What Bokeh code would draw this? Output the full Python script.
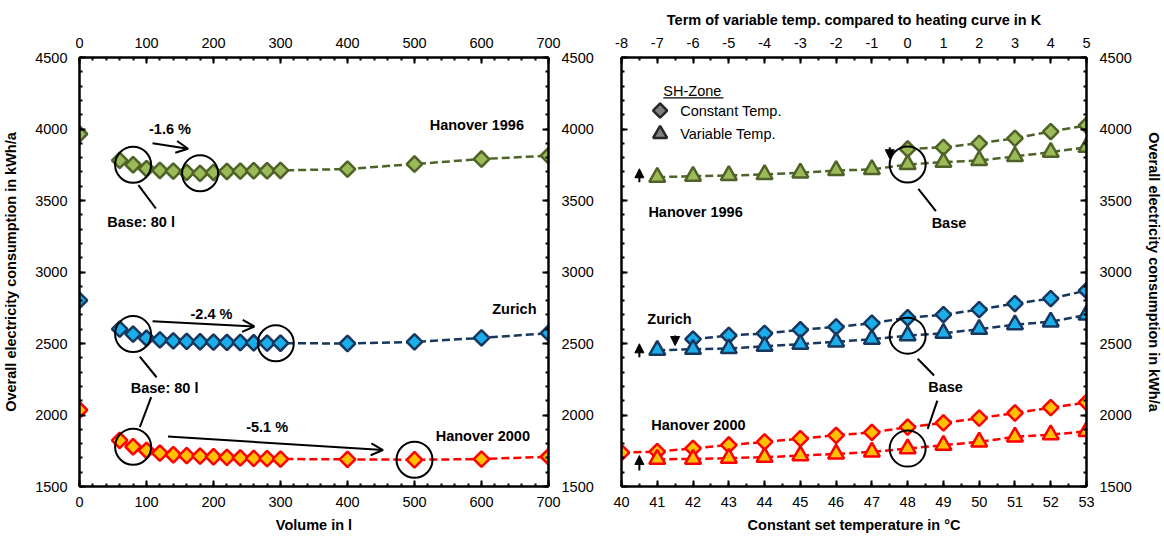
import numpy as np
from bokeh.plotting import figure
from bokeh.models import Range1d, LinearAxis, FixedTicker, Arrow, OpenHead, NormalHead
from bokeh.layouts import row
from bokeh.embed import file_html
from bokeh.resources import INLINE
from bokeh.core.properties import value

FONT = "Liberation Sans"

# ---------------- data: left panel (storage volume) ----------------
volume = [0, 60, 80, 100, 120, 140, 160, 180, 200, 220, 240, 260, 280, 300, 400, 500, 600, 700]
han96_vol = [3965, 3780, 3750, 3722, 3710, 3705, 3697, 3690, 3696, 3703, 3706, 3708, 3708, 3710, 3720, 3755, 3790, 3813]
zur_vol = [2802, 2601, 2566, 2538, 2525, 2518, 2515, 2512, 2510, 2508, 2507, 2505, 2503, 2502, 2500, 2511, 2539, 2572]
han00_vol = [2035, 1822, 1778, 1752, 1733, 1722, 1716, 1712, 1708, 1704, 1700, 1697, 1695, 1692, 1690, 1687, 1692, 1708]

# ---------------- data: right panel (set temperature) ----------------
set_temp = [40, 41, 42, 43, 44, 45, 46, 47, 48, 49, 50, 51, 52, 53]
han96_const = [None] * 8 + [3860, 3872, 3900, 3935, 3982, 4025]
zur_const = [None] * 2 + [2530, 2556, 2570, 2596, 2616, 2642, 2680, 2702, 2737, 2779, 2814, 2870]
han00_const = [1737, 1744, 1767, 1790, 1812, 1835, 1858, 1878, 1915, 1945, 1978, 2014, 2051, 2088]

var_term = [-7, -6, -5, -4, -3, -2, -1, 0, 1, 2, 3, 4, 5]
han96_var = [3663, 3670, 3675, 3682, 3694, 3710, 3717, 3752, 3768, 3780, 3808, 3838, 3873]
zur_var = [2453, 2460, 2465, 2481, 2495, 2512, 2530, 2555, 2572, 2600, 2632, 2652, 2700]
han00_var = [1691, 1692, 1698, 1705, 1716, 1728, 1742, 1765, 1789, 1812, 1847, 1862, 1886]

# tick labels
vol_ticks = [0, 100, 200, 300, 400, 500, 600, 700]
y_ticks = [1500, 2000, 2500, 3000, 3500, 4000, 4500]
temp_ticks = set_temp
var_ticks = [-8, -7, -6, -5, -4, -3, -2, -1, 0, 1, 2, 3, 4, 5]
var_labels = ["-8", "-7", "-6", "-5", "-4", "-3", "-2", "-1", "0", "1", "2", "3", "4", "5"]

GREEN = dict(fill="#9BBB59", line="#4F6228")
BLUE = dict(fill="#1AAEEA", line="#17375E")
RED = dict(fill="#FFC000", line="#FF0000")


def style_axis(ax, ticks, minor):
    ax.ticker = FixedTicker(ticks=ticks, minor_ticks=minor)
    ax.axis_line_width = 2.5
    ax.axis_line_color = "black"
    ax.major_tick_in = 6
    ax.major_tick_out = 0
    ax.minor_tick_in = 3
    ax.minor_tick_out = 0
    ax.major_tick_line_width = 2
    ax.minor_tick_line_width = 2
    ax.major_tick_line_color = "black"
    ax.minor_tick_line_color = "black"
    ax.major_label_text_font = FONT
    ax.major_label_text_font_size = "14.5px"
    ax.major_label_text_color = "black"
    ax.axis_label_text_font = FONT
    ax.axis_label_text_font_style = "bold"
    ax.axis_label_text_font_size = "14.5px"
    ax.axis_label_text_color = "black"


def base_fig(xr, w, ml, mr):
    p = figure(width=w, height=537, x_range=xr, y_range=Range1d(1500, 4500),
               output_backend="svg", toolbar_location=None,
               min_border_left=ml, min_border_right=mr, min_border_top=57, min_border_bottom=51)
    p.xgrid.visible = False
    p.ygrid.visible = False
    p.outline_line_color = None
    p.background_fill_color = "white"
    p.border_fill_color = "white"
    return p


def btext(p, xs, ys, texts, align="center", bold=True, size="14.5px", **kw):
    p.text(x=xs, y=ys, text=texts, text_font=value(FONT),
           text_font_style="bold" if bold else "normal", text_font_size=size,
           text_align=align, text_baseline="middle", text_color="black", **kw)


# =================== LEFT FIGURE ===================
p1 = base_fig(Range1d(0, 700), 600, 78, 52)
vol_minor = list(range(0, 701, 20))
y_minor = list(range(1500, 4501, 100))

style_axis(p1.xaxis[0], vol_ticks, vol_minor)
p1.xaxis[0].axis_label = "Volume in l"
p1.xaxis[0].major_label_standoff = 10
p1.xaxis[0].axis_label_standoff = 7

top1 = LinearAxis()
style_axis(top1, vol_ticks, vol_minor)
top1.major_label_standoff = 10
p1.add_layout(top1, "above")

style_axis(p1.yaxis[0], y_ticks, y_minor)
p1.yaxis[0].axis_label = "Overall electricity consumption in kWh/a"
p1.yaxis[0].major_label_standoff = 12
p1.yaxis[0].axis_label_standoff = 13

right1 = LinearAxis()
style_axis(right1, y_ticks, y_minor)
right1.major_label_standoff = 13
p1.add_layout(right1, "right")

for ys, c in ((han96_vol, GREEN), (zur_vol, BLUE), (han00_vol, RED)):
    p1.line(volume[1:], ys[1:], line_color=c["line"], line_width=2.5, line_dash="8 4")
    p1.scatter(volume, ys, marker="square", angle=np.pi / 4, size=11,
               fill_color=c["fill"], line_color=c["line"], line_width=2.5)

# annotation circles: base 80 l and best volume
circ_x = [80, 180, 80, 293, 80, 500]
circ_y = [han96_vol[volume.index(80)], han96_vol[volume.index(180)],
          zur_vol[volume.index(80)], zur_vol[volume.index(300)],
          han00_vol[volume.index(80)], han00_vol[volume.index(500)]]
p1.scatter(circ_x, circ_y, marker="circle", size=36, fill_color=None,
           line_color="black", line_width=2)

# leader lines to "Base: 80 l"
p1.segment(x0=[88, 90, 107], y0=[3608, 2409, 2125], x1=[114, 115, 90], y1=[3444, 2264, 1915],
           line_color="black", line_width=2)

# percent arrows
for (xs, ys, xe, ye) in ((109, 3901, 162, 3862), (109, 2656, 261, 2619), (132, 1850, 453, 1755)):
    p1.add_layout(Arrow(end=OpenHead(size=12, line_width=2, line_color="black"),
                        x_start=xs, y_start=ys, x_end=xe, y_end=ye,
                        line_color="black", line_width=2))

btext(p1, [135, 197, 280], [3997, 2708, 1915], ["-1.6 %", "-2.4 %", "-5.1 %"])
btext(p1, [92, 127], [3350, 2190], ["Base: 80 l", "Base: 80 l"])
btext(p1, [593, 649, 602], [4029, 2740, 1850], ["Hanover 1996", "Zurich", "Hanover 2000"])

# =================== RIGHT FIGURE ===================
p2 = base_fig(Range1d(40, 53), 564, 21, 75)
p2.extra_x_ranges = {"var": Range1d(-8, 5)}
temp_minor = list(np.arange(40, 53.01, 0.5))
var_minor = list(np.arange(-8, 5.01, 0.5))

style_axis(p2.xaxis[0], temp_ticks, temp_minor)
p2.xaxis[0].axis_label = "Constant set temperature in °C"
p2.xaxis[0].major_label_standoff = 10
p2.xaxis[0].axis_label_standoff = 7

top2 = LinearAxis(x_range_name="var")
style_axis(top2, var_ticks, var_minor)
top2.axis_label = "Term of variable temp. compared to heating curve in K"
top2.major_label_overrides = dict(zip(var_ticks, var_labels))
top2.major_label_standoff = 10
top2.axis_label_standoff = 7
p2.add_layout(top2, "above")

style_axis(p2.yaxis[0], y_ticks, y_minor)
p2.yaxis[0].major_label_overrides = {t: "" for t in y_ticks}
p2.yaxis[0].major_label_standoff = 0

right2 = LinearAxis()
style_axis(right2, y_ticks, y_minor)
right2.axis_label = "Overall electricity consumption in kWh/a"
right2.major_label_standoff = 13
right2.axis_label_standoff = 11
p2.add_layout(right2, "right")

for ys, c in ((han96_var, GREEN), (zur_var, BLUE), (han00_var, RED)):
    p2.line(var_term, ys, x_range_name="var", line_color=c["line"], line_width=2.5, line_dash="8 4")
for ys, c in ((han96_const, GREEN), (zur_const, BLUE), (han00_const, RED)):
    xs = [t for t, v in zip(set_temp, ys) if v is not None]
    vs = [v for v in ys if v is not None]
    p2.line(xs, vs, line_color=c["line"], line_width=2.5, line_dash="8 4")
    p2.scatter(xs, vs, marker="square", angle=np.pi / 4, size=11,
               fill_color=c["fill"], line_color=c["line"], line_width=2.5)
for ys, c in ((han96_var, GREEN), (zur_var, BLUE), (han00_var, RED)):
    p2.scatter(var_term, ys, x_range_name="var", marker="triangle", size=16,
               fill_color=c["fill"], line_color=c["line"], line_width=2.5)

# base circles at variable temp. term 0
i0 = var_term.index(0)
p2.scatter([0, 0, 0], [han96_var[i0], zur_var[i0], han00_var[i0]], x_range_name="var",
           marker="circle", size=36, fill_color=None, line_color="black", line_width=2)

# leader lines to "Base"
p2.segment(x0=[48.30, 48.28, 48.83], y0=[3582, 2393, 2101], x1=[48.79, 48.74, 48.56], y1=[3425, 2276, 1903],
           line_color="black", line_width=2)

# small arrows marking start points
for (xa, ys, ye) in ((40.5, 3628, 3722), (47.5, 3873, 3792), (40.5, 2404, 2498),
                     (41.5, 2556, 2486), (40.5, 1612, 1717)):
    p2.add_layout(Arrow(end=NormalHead(size=9, fill_color="black", line_color="black", line_width=1),
                        x_start=xa, y_start=ys, x_end=xa, y_end=ye,
                        line_color="black", line_width=2))

btext(p2, [49.155, 49.06], [3341, 2199], ["Base", "Base"])
btext(p2, [42.07, 41.34, 42.15], [3423, 2668, 1931], ["Hanover 1996", "Zurich", "Hanover 2000"])

# legend
btext(p2, [41.17], [4264], ["SH-Zone"], align="left", bold=False)
p2.segment(x0=[41.17], y0=[4218], x1=[42.85], y1=[4218], line_color="black", line_width=1.2)
p2.scatter([41.08], [4129], marker="square", angle=np.pi / 4, size=10,
           fill_color="#7F7F7F", line_color="#262626", line_width=2.5)
p2.scatter([41.08], [3966], marker="triangle", size=14,
           fill_color="#7F7F7F", line_color="#262626", line_width=2.5)
btext(p2, [41.64, 41.64], [4129, 3966], ["Constant Temp.", "Variable Temp."], align="left", bold=False)

layout = row(p1, p2)
open("out.html", "w").write(file_html(layout, INLINE))
